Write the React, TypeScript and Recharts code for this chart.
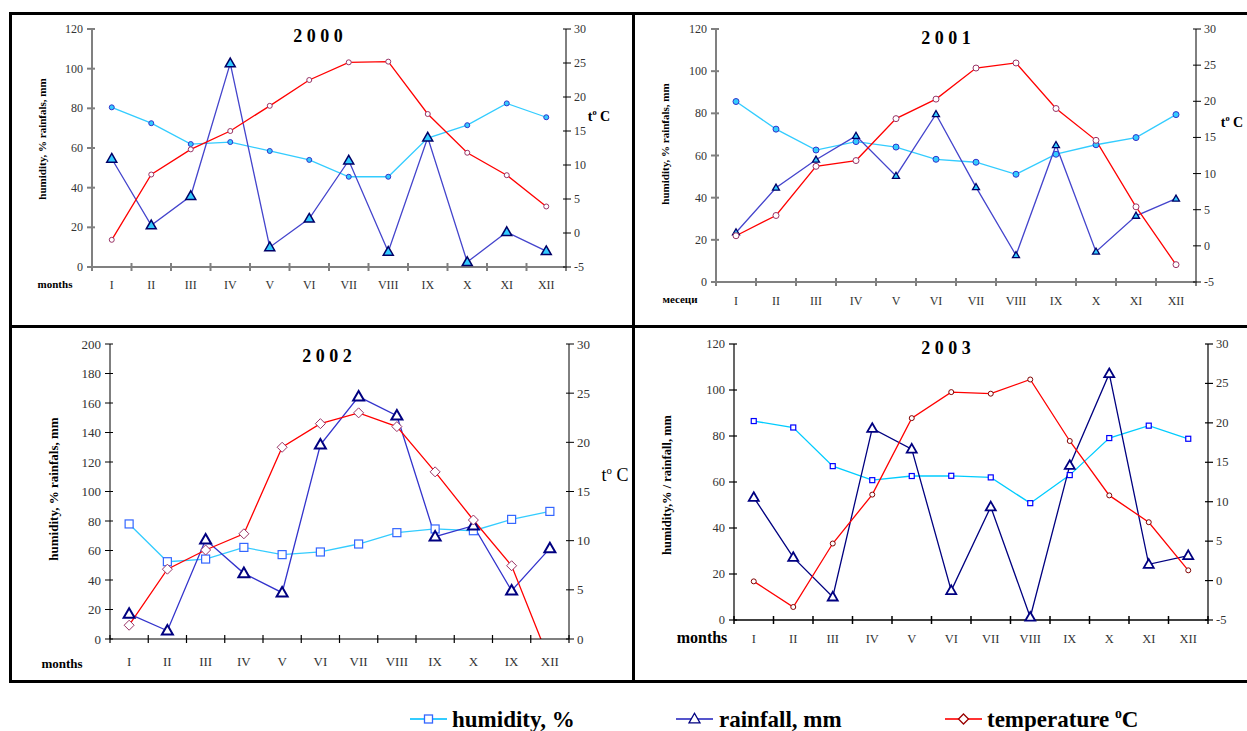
import React from 'react';
import { LineChart, Line, XAxis, YAxis } from 'recharts';

const FONT = '"Liberation Serif", "Times New Roman", serif';

const months = ['I', 'II', 'III', 'IV', 'V', 'VI', 'VII', 'VIII', 'IX', 'X', 'XI', 'XII'];
// the 2002 sheet labels the 11th month "IX" in the source
const months2002 = ['I', 'II', 'III', 'IV', 'V', 'VI', 'VII', 'VIII', 'IX', 'X', 'IX', 'XII'];

const hum2000 = [80.5, 72.5, 62, 63, 58.5, 54, 45.5, 45.5, 65, 71.5, 82.5, 75.5];
const rain2000 = [54.6, 21, 35.8, 102.7, 10, 24.4, 53.7, 7.7, 65.3, 2.5, 17.6, 8];
const temp2000 = [-1, 8.6, 12.3, 15, 18.7, 22.5, 25.1, 25.2, 17.5, 11.8, 8.5, 3.9];

const hum2001 = [85.6, 72.5, 62.6, 66.6, 64, 58.2, 56.8, 51.1, 60.6, 65.1, 68.5, 79.4];
const rain2001 = [23.5, 44.7, 58, 69.3, 50.3, 79.6, 45, 12.7, 64.9, 14.4, 31.4, 39.5];
const temp2001 = [1.4, 4.2, 11, 11.8, 17.6, 20.3, 24.6, 25.3, 19, 14.6, 5.4, -2.6];

const hum2002 = [78, 52.4, 54.2, 62.1, 57.2, 59, 64.4, 72.1, 74.6, 73.4, 81.1, 86.5];
const rain2002 = [17, 5.6, 67.3, 44.5, 31.4, 131.7, 164.3, 151.4, 69.4, 76.8, 32.7, 61.4];
const temp2002 = [1.4, 7.1, 9.05, 10.7, 19.5, 21.9, 23, 21.6, 17, 12.1, 7.45, -2.3];

const hum2003 = [86.5, 83.7, 66.9, 60.8, 62.6, 62.7, 62, 50.8, 63, 79.1, 84.5, 78.8];
const rain2003 = [53.3, 27.2, 10, 83.3, 74.3, 12.8, 49.2, 1.2, 67.2, 107.1, 24.2, 28];
const temp2003 = [-0.1, -3.35, 4.7, 10.9, 20.6, 23.9, 23.7, 25.5, 17.7, 10.8, 7.4, 1.3];

const ticks120 = [0, 20, 40, 60, 80, 100, 120];
const ticks200 = [0, 20, 40, 60, 80, 100, 120, 140, 160, 180, 200];
const ticksT35 = [-5, 0, 5, 10, 15, 20, 25, 30];
const ticksT30 = [0, 5, 10, 15, 20, 25, 30];

type MarkerStyle = { kind: 'circle' | 'triangle' | 'square' | 'diamond'; size: number; fill: string; stroke: string; sw: number };

const drawMarker = (m: MarkerStyle, cx: number, cy: number, key?: string) => {
  const s = m.size;
  if (m.kind === 'circle') {
    return <circle key={key} cx={cx} cy={cy} r={s / 2} fill={m.fill} stroke={m.stroke} strokeWidth={m.sw} />;
  }
  if (m.kind === 'square') {
    return <rect key={key} x={cx - s / 2} y={cy - s / 2} width={s} height={s} fill={m.fill} stroke={m.stroke} strokeWidth={m.sw} />;
  }
  if (m.kind === 'diamond') {
    const h = s / 2;
    return <polygon key={key} points={`${cx},${cy - h} ${cx + h},${cy} ${cx},${cy + h} ${cx - h},${cy}`} fill={m.fill} stroke={m.stroke} strokeWidth={m.sw} />;
  }
  const h = s * 0.87;
  return (
    <polygon
      key={key}
      points={`${cx},${cy - h * 0.6} ${cx + s / 2},${cy + h * 0.4} ${cx - s / 2},${cy + h * 0.4}`}
      fill={m.fill}
      stroke={m.stroke}
      strokeWidth={m.sw}
      strokeLinejoin="miter"
    />
  );
};

const dotFn = (m: MarkerStyle) => (p: any) => {
  const key = `dot-${p.index}`;
  if (p.cx == null || p.cy == null) return <g key={key} />;
  return drawMarker(m, p.cx, p.cy, key);
};

type PanelCfg = {
  left: number; top: number; width: number; height: number;
  leftW: number; rightW: number; mt: number; mb: number;
  cats: string[]; hum: number[]; rain: number[]; temp: number[];
  lDomain: [number, number]; lTicks: number[];
  rDomain: [number, number]; rTicks: number[]; rOverflow?: boolean;
  lAxis: [string, number]; rAxis: [string, number]; xAxis: [string, number];
  tickFont: number; xDy: number;
  humLine: string; rainLine: string; tempLine: string;
  humM: MarkerStyle; rainM: MarkerStyle; tempM: MarkerStyle;
  texts: { x: number; y: number; size: number; bold?: boolean; rotate?: boolean; content: React.ReactNode }[];
};

const Panel = ({ c }: { c: PanelCfg }) => {
  const plotW = c.width - c.leftW - c.rightW;
  const step = plotW / 12;
  // index keys, because one sheet repeats a month label
  const data = c.cats.map((m, i) => ({ k: `k${i}`, hum: c.hum[i], rain: c.rain[i], temp: c.temp[i] }));

  const xTick = (p: any) => {
    const { x, y, index } = p;
    const bx = x - step / 2;
    return (
      <g>
        <line x1={bx} x2={bx} y1={y - 4} y2={y + 4} stroke={c.xAxis[0]} strokeWidth={c.xAxis[1]} />
        {index === 11 && <line x1={x + step / 2} x2={x + step / 2} y1={y - 4} y2={y + 4} stroke={c.xAxis[0]} strokeWidth={c.xAxis[1]} />}
        <text x={x} y={y + c.xDy} textAnchor="middle" dominantBaseline="central" fontFamily={FONT} fontSize={c.tickFont} fill="#333">
          {c.cats[index]}
        </text>
      </g>
    );
  };
  const lTick = (p: any) => (
    <g>
      <line x1={p.x - 5} x2={p.x + 3} y1={p.y} y2={p.y} stroke={c.lAxis[0]} strokeWidth={c.lAxis[1]} />
      <text x={p.x - 9} y={p.y} textAnchor="end" dominantBaseline="central" fontFamily={FONT} fontSize={c.tickFont} fill="#333">
        {p.payload.value}
      </text>
    </g>
  );
  const rTick = (p: any) => (
    <g>
      <line x1={p.x - 3} x2={p.x + 5} y1={p.y} y2={p.y} stroke={c.rAxis[0]} strokeWidth={c.rAxis[1]} />
      <text x={p.x + 8} y={p.y} textAnchor="start" dominantBaseline="central" fontFamily={FONT} fontSize={c.tickFont} fill="#333">
        {p.payload.value}
      </text>
    </g>
  );

  return (
    <div style={{ position: 'absolute', left: c.left, top: c.top, width: c.width, height: c.height, overflow: 'hidden' }}>
      <LineChart width={c.width} height={c.height} data={data} margin={{ top: c.mt, right: 0, left: 0, bottom: c.mb }}>
        <XAxis
          dataKey="k"
          scale="point"
          padding={{ left: step / 2, right: step / 2 }}
          interval={0}
          height={30}
          tickLine={false}
          tickSize={0}
          tickMargin={0}
          axisLine={{ stroke: c.xAxis[0], strokeWidth: c.xAxis[1] }}
          tick={xTick}
        />
        <YAxis
          yAxisId="l"
          width={c.leftW}
          domain={c.lDomain}
          ticks={c.lTicks}
          interval={0}
          tickLine={false}
          tickSize={0}
          tickMargin={0}
          axisLine={{ stroke: c.lAxis[0], strokeWidth: c.lAxis[1] }}
          tick={lTick}
        />
        <YAxis
          yAxisId="r"
          orientation="right"
          width={c.rightW}
          domain={c.rDomain}
          ticks={c.rTicks}
          allowDataOverflow={!!c.rOverflow}
          interval={0}
          tickLine={false}
          tickSize={0}
          tickMargin={0}
          axisLine={{ stroke: c.rAxis[0], strokeWidth: c.rAxis[1] }}
          tick={rTick}
        />
        <Line yAxisId="l" dataKey="hum" stroke={c.humLine} strokeWidth={1.3} dot={dotFn(c.humM)} activeDot={false} isAnimationActive={false} />
        <Line yAxisId="l" dataKey="rain" stroke={c.rainLine} strokeWidth={1.3} dot={dotFn(c.rainM)} activeDot={false} isAnimationActive={false} />
        <Line yAxisId="r" dataKey="temp" stroke={c.tempLine} strokeWidth={1.3} dot={dotFn(c.tempM)} activeDot={false} isAnimationActive={false} />
      </LineChart>
      {c.texts.map((t, i) => (
        <div
          key={i}
          style={{
            position: 'absolute',
            left: t.x - c.left,
            top: t.y - c.top,
            transform: `translate(-50%, -50%)${t.rotate ? ' rotate(-90deg)' : ''}`,
            whiteSpace: 'nowrap',
            fontFamily: FONT,
            fontSize: t.size,
            fontWeight: t.bold ? 'bold' : 'normal',
            lineHeight: 1,
            color: '#000',
          }}
        >
          {t.content}
        </div>
      ))}
    </div>
  );
};

const degC = (
  <span>
    t<sup style={{ fontSize: '0.6em', verticalAlign: 'top', position: 'relative', top: '-0.1em' }}>o</sup> C
  </span>
);

const panels: PanelCfg[] = [
  {
    left: 10, top: 13, width: 623, height: 313, leftW: 82, rightW: 67, mt: 16, mb: 29,
    cats: months, hum: hum2000, rain: rain2000, temp: temp2000,
    lDomain: [0, 120], lTicks: ticks120, rDomain: [-5, 30], rTicks: ticksT35,
    lAxis: ['#808080', 2], rAxis: ['#000', 1], xAxis: ['#808080', 2],
    tickFont: 12, xDy: 18,
    humLine: '#33ccff', rainLine: '#4444cc', tempLine: '#ff0000',
    humM: { kind: 'circle', size: 5, fill: '#33ccff', stroke: '#3333cc', sw: 1 },
    rainM: { kind: 'triangle', size: 10, fill: '#33ccff', stroke: '#000066', sw: 1.5 },
    tempM: { kind: 'circle', size: 5, fill: '#fff', stroke: '#993366', sw: 1 },
    texts: [
      { x: 318, y: 36, size: 18, bold: true, content: '2 0 0 0' },
      { x: 42, y: 139, size: 11, bold: true, rotate: true, content: 'humidity, % rainfals, mm' },
      { x: 599, y: 117, size: 14, bold: true, content: degC },
      { x: 55, y: 284, size: 11, bold: true, content: 'months' },
    ],
  },
  {
    left: 633, top: 13, width: 614, height: 313, leftW: 83, rightW: 51, mt: 16, mb: 14,
    cats: months, hum: hum2001, rain: rain2001, temp: temp2001,
    lDomain: [0, 120], lTicks: ticks120, rDomain: [-5, 30], rTicks: ticksT35,
    lAxis: ['#808080', 2], rAxis: ['#000', 1], xAxis: ['#808080', 2],
    tickFont: 12, xDy: 19,
    humLine: '#33ccff', rainLine: '#4444cc', tempLine: '#ff0000',
    humM: { kind: 'circle', size: 6, fill: '#33ccff', stroke: '#3333cc', sw: 1 },
    rainM: { kind: 'triangle', size: 7, fill: '#33ccff', stroke: '#000066', sw: 1.3 },
    tempM: { kind: 'circle', size: 6, fill: '#fff', stroke: '#993366', sw: 1 },
    texts: [
      { x: 946, y: 38, size: 18, bold: true, content: '2 0 0 1' },
      { x: 665, y: 144, size: 11, bold: true, rotate: true, content: 'humidity, % rainfals, mm' },
      { x: 1232, y: 123, size: 14, bold: true, content: degC },
      { x: 680, y: 299, size: 11, bold: true, content: 'месеци' },
    ],
  },
  {
    left: 10, top: 326, width: 623, height: 356, leftW: 100, rightW: 64, mt: 18, mb: 13,
    cats: months2002, hum: hum2002, rain: rain2002, temp: temp2002,
    lDomain: [0, 200], lTicks: ticks200, rDomain: [0, 30], rTicks: ticksT30, rOverflow: true,
    lAxis: ['#000', 1], rAxis: ['#000', 1], xAxis: ['#000', 1.2],
    tickFont: 13, xDy: 22,
    humLine: '#33ccff', rainLine: '#3333cc', tempLine: '#ff0000',
    humM: { kind: 'square', size: 8, fill: '#fff', stroke: '#3366ff', sw: 1.2 },
    rainM: { kind: 'triangle', size: 11, fill: '#fff', stroke: '#000080', sw: 2 },
    tempM: { kind: 'diamond', size: 10, fill: '#fff', stroke: '#993366', sw: 1 },
    texts: [
      { x: 327, y: 356, size: 18, bold: true, content: '2 0 0 2' },
      { x: 53, y: 489, size: 13, bold: true, rotate: true, content: 'humidity, % rainfals, mm' },
      { x: 615, y: 475, size: 18, content: degC },
      { x: 62, y: 663, size: 13, bold: true, content: 'months' },
    ],
  },
  {
    left: 633, top: 326, width: 614, height: 356, leftW: 101, rightW: 39, mt: 18, mb: 32,
    cats: months, hum: hum2003, rain: rain2003, temp: temp2003,
    lDomain: [0, 120], lTicks: ticks120, rDomain: [-5, 30], rTicks: ticksT35,
    lAxis: ['#000', 1.2], rAxis: ['#000', 1.2], xAxis: ['#000', 1.5],
    tickFont: 12.5, xDy: 19,
    humLine: '#00ccff', rainLine: '#000080', tempLine: '#ff0000',
    humM: { kind: 'square', size: 5, fill: '#fff', stroke: '#0000ff', sw: 1.2 },
    rainM: { kind: 'triangle', size: 10, fill: '#fff', stroke: '#000080', sw: 1.8 },
    tempM: { kind: 'circle', size: 5, fill: '#fff', stroke: '#800000', sw: 1 },
    texts: [
      { x: 946, y: 348, size: 18, bold: true, content: '2 0 0 3' },
      { x: 667, y: 485, size: 12.5, bold: true, rotate: true, content: 'humidity,% / rainfall, mm' },
      { x: 702, y: 638, size: 16, bold: true, content: 'months' },
    ],
  },
];

const legendItems = [
  { label: 'humidity, %', line: '#33ccff', lx: 410, tx: 452, m: { kind: 'square', size: 8, fill: '#fff', stroke: '#3366ff', sw: 1.3 } as MarkerStyle },
  { label: 'rainfall, mm', line: '#5555cc', lx: 676, tx: 719, m: { kind: 'triangle', size: 11, fill: '#fff', stroke: '#000080', sw: 1.3 } as MarkerStyle },
  { label: 'temperature', line: '#ff3333', lx: 945, tx: 987, m: { kind: 'diamond', size: 10, fill: '#fff', stroke: '#990000', sw: 1.3 } as MarkerStyle },
];

const Rule = ({ x, y, w, h }: { x: number; y: number; w: number; h: number }) => (
  <div style={{ position: 'absolute', left: x, top: y, width: w, height: h, background: '#000' }} />
);

export default function App() {
  return (
    <div style={{ position: 'absolute', left: 0, top: 0, width: 1247, height: 731, background: '#fff', overflow: 'hidden' }}>
      {panels.map((p, i) => (
        <Panel key={i} c={p} />
      ))}
      <Rule x={9} y={12} w={1238} h={3} />
      <Rule x={9} y={325} w={1238} h={3} />
      <Rule x={9} y={680} w={1238} h={3} />
      <Rule x={9} y={12} w={3} h={671} />
      <Rule x={632} y={12} w={3} h={671} />
      {legendItems.map((it, i) => (
        <React.Fragment key={i}>
          <svg style={{ position: 'absolute', left: it.lx, top: 709 }} width={38} height={20}>
            <line x1={0} x2={37} y1={10} y2={10} stroke={it.line} strokeWidth={2} />
            {drawMarker(it.m, 18.5, 10)}
          </svg>
          <div
            style={{
              position: 'absolute',
              left: it.tx,
              top: 719,
              transform: 'translateY(-50%)',
              fontFamily: FONT,
              fontWeight: 'bold',
              fontSize: 23,
              lineHeight: 1,
              whiteSpace: 'nowrap',
              color: '#000',
            }}
          >
            {it.label}
            {i === 2 && (
              <span>
                {' '}
                <sup style={{ fontSize: '0.6em', verticalAlign: 'top', position: 'relative', top: '-0.05em' }}>o</sup>C
              </span>
            )}
          </div>
        </React.Fragment>
      ))}
    </div>
  );
}
